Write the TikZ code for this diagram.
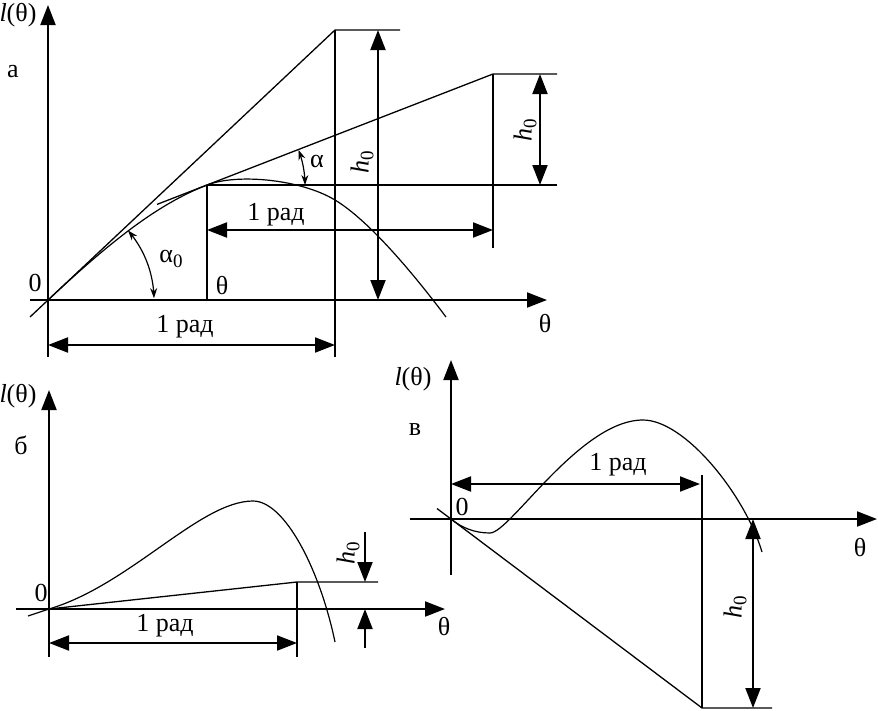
\documentclass[tikz,border=0pt]{standalone}
\usepackage{fontspec}
\setmainfont{Liberation Serif}
\usetikzlibrary{arrows.meta}

\newcommand{\lowidx}[1]{\raisebox{-0.4ex}{\fontsize{19}{19}\selectfont #1}}

\begin{document}
\begin{tikzpicture}[x=1pt,y=-1pt,
	axis/.style={line width=2pt,-{Triangle[length=20pt,width=15pt]}},
	dim/.style={line width=2pt,{Triangle[length=20pt,width=15pt]}-{Triangle[length=20pt,width=15pt]}},
	tip/.style={line width=2pt,-{Triangle[length=20pt,width=15pt]}},
	guide/.style={line width=1.3pt},
	curve/.style={line width=1.2pt},
	ang/.style={line width=1.2pt,{Stealth[length=10pt,width=7pt]}-{Stealth[length=10pt,width=7pt]}},
	lbl/.style={font=\fontsize{26}{28}\selectfont,inner sep=0pt}]

	\useasboundingbox (0,0) rectangle (878,710);

	% panel a
	\coordinate (Oa)    at (48,300);
	\coordinate (a-ytop) at (48,5);
	\coordinate (a-ybot) at (48,357);
	\coordinate (a-xl)  at (30,300);
	\coordinate (a-xr)  at (547,300);
	\coordinate (a-s0)  at (30,317);
	\coordinate (a-s1)  at (335,30);
	\coordinate (a-s2)  at (400,30);
	\coordinate (a-vb)  at (335,357);
	\coordinate (Ta)    at (207,185);
	\coordinate (a-tb)  at (207,300);
	\coordinate (a-t0)  at (157,204.4);
	\coordinate (a-t1)  at (493,74);
	\coordinate (a-t2)  at (557,74);
	\coordinate (a-tv)  at (493,248);
	\coordinate (a-hr)  at (557,185);
	\coordinate (a-d1l) at (48,345);
	\coordinate (a-d1r) at (335,345);
	\coordinate (a-d2l) at (207,230);
	\coordinate (a-d2r) at (493,230);
	\coordinate (a-h1t) at (378,30);
	\coordinate (a-h1b) at (378,300);
	\coordinate (a-h2t) at (540,74);
	\coordinate (a-h2b) at (540,185);

	\path[axis] (a-ybot) edge (a-ytop);
	\path[axis] (a-xl) edge (a-xr);
	\draw[guide] (a-s0) -- (a-s1) -- (a-s2);
	\draw[guide] (a-s1) -- (a-vb);
	\draw[guide] (a-t0) -- (a-t1) -- (a-t2);
	\draw[guide] (a-t1) -- (a-tv);
	\draw[guide] (Ta) -- (a-hr);
	\draw[guide] (Ta) -- (a-tb);
	\draw[curve] (Oa) .. controls (110,242) and (a-t0) .. (Ta)
		.. controls (237,173.4) and (300,179) .. (335,200)
		.. controls (370,221) and (416,277) .. (446,317);
	\path[dim] (a-d1l) edge (a-d1r);
	\path[dim] (a-d2l) edge (a-d2r);
	\path[dim] (a-h1t) edge (a-h1b);
	\path[dim] (a-h2t) edge (a-h2b);
	\draw[ang] plot[domain=-21:0,samples=20] ({207+98*cos(\x)},{185+98*sin(\x)});
	\draw[ang] plot[domain=-41:-1,samples=30] ({48+106*cos(\x)},{300+106*sin(\x)});

	\node[lbl] (a-ly)  at (18,15)   {\textit{l}(θ)};
	\node[lbl] (a-nm)  at (13,72)   {а};
	\node[lbl] (a-zr)  at (35,283)  {0};
	\node[lbl] (a-th)  at (222,286) {θ};
	\node[lbl] (a-lx)  at (545,324) {θ};
	\node[lbl] (a-r1)  at (185,327) {1 рад};
	\node[lbl] (a-r2)  at (276,215) {1 рад};
	\node[lbl,rotate=90] (a-h1) at (362,162) {\textit{h}\lowidx{0}};
	\node[lbl,rotate=90] (a-h2) at (525,130) {\textit{h}\lowidx{0}};
	\node[lbl] (a-al)  at (317,161) {α};
	\node[lbl] (a-al0) at (171,259) {α\lowidx{0}};

	% panel b
	\coordinate (Ob)    at (49,609);
	\coordinate (b-ytop) at (49,390);
	\coordinate (b-ybot) at (49,657);
	\coordinate (b-xl)  at (16,609);
	\coordinate (b-xr)  at (445,609);
	\coordinate (b-c0)  at (28,616);
	\coordinate (b-pk)  at (253,501);
	\coordinate (b-ce)  at (335,642);
	\coordinate (b-t1)  at (297,582);
	\coordinate (b-t2)  at (378,582);
	\coordinate (b-vb)  at (297,657);
	\coordinate (b-d1l) at (49,643);
	\coordinate (b-d1r) at (297,643);
	\coordinate (b-h1t) at (365,532);
	\coordinate (b-h1b) at (365,582);
	\coordinate (b-h2t) at (365,648);
	\coordinate (b-h2b) at (365,609);

	\path[axis] (b-ybot) edge (b-ytop);
	\path[axis] (b-xl) edge (b-xr);
	\draw[guide] (Ob) -- (b-t1) -- (b-t2);
	\draw[guide] (b-t1) -- (b-vb);
	\draw[curve] (b-c0) -- (Ob) .. controls (130,585) and (200,501) .. (b-pk)
		.. controls (285,501) and (320,570) .. (b-ce);
	\path[dim] (b-d1l) edge (b-d1r);
	\path[tip] (b-h1t) edge (b-h1b);
	\path[tip] (b-h2t) edge (b-h2b);

	\node[lbl] (b-ly) at (18,396)  {\textit{l}(θ)};
	\node[lbl] (b-nm) at (21,445)  {б};
	\node[lbl] (b-zr) at (41,593)  {0};
	\node[lbl] (b-lx) at (444,627) {θ};
	\node[lbl] (b-r1) at (165,626) {1 рад};
	\node[lbl,rotate=90] (b-h1) at (348,553) {\textit{h}\lowidx{0}};

	% panel c
	\coordinate (Oc)    at (451,519);
	\coordinate (c-ytop) at (451,360);
	\coordinate (c-ybot) at (451,575);
	\coordinate (c-xl)  at (410,519);
	\coordinate (c-xr)  at (877,519);
	\coordinate (c-mn)  at (490,533);
	\coordinate (c-pk)  at (643,420);
	\coordinate (c-ce)  at (762,552);
	\coordinate (c-s0)  at (437,508.5);
	\coordinate (c-s1)  at (702,708);
	\coordinate (c-s2)  at (772,708);
	\coordinate (c-vt)  at (702,475);
	\coordinate (c-d1l) at (451,484);
	\coordinate (c-d1r) at (700,484);
	\coordinate (c-h1t) at (753,519);
	\coordinate (c-h1b) at (753,708);

	\path[axis] (c-ybot) edge (c-ytop);
	\path[axis] (c-xl) edge (c-xr);
	\draw[guide] (c-s0) -- (c-s1) -- (c-s2);
	\draw[guide] (c-vt) -- (c-s1);
	\draw[curve] (Oc) .. controls (462,528) and (475,533) .. (c-mn)
		.. controls (510,533) and (580,420) .. (c-pk)
		.. controls (685,420) and (745,495) .. (c-ce);
	\path[dim] (c-d1l) edge (c-d1r);
	\path[dim] (c-h1t) edge (c-h1b);

	\node[lbl] (c-ly) at (413,379) {\textit{l}(θ)};
	\node[lbl] (c-nm) at (415,430) {в};
	\node[lbl] (c-zr) at (462,507) {0};
	\node[lbl] (c-lx) at (860,548) {θ};
	\node[lbl] (c-r1) at (618,465) {1 рад};
	\node[lbl,rotate=90] (c-h1) at (735,607) {\textit{h}\lowidx{0}};

\end{tikzpicture}
\end{document}
